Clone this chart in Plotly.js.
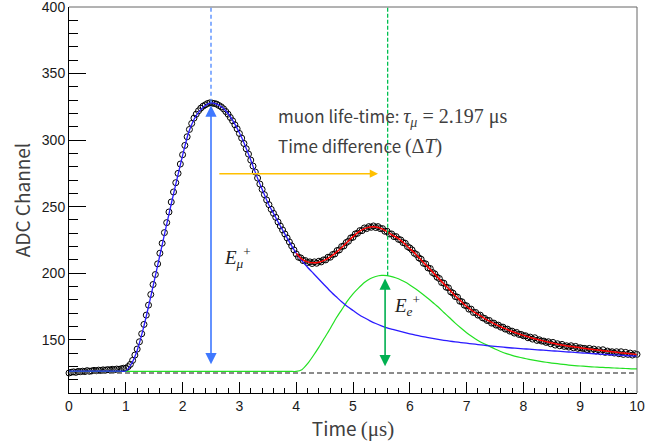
<!DOCTYPE html>
<html>
<head>
<meta charset="utf-8">
<script src="https://cdn.plot.ly/plotly-3.0.1.min.js"></script>
<style>html,body{margin:0;padding:0;background:#fff;}#chart{width:670px;height:443px;}</style>
</head>
<body>
<div id="chart"></div>
<script>
// ---- measured waveform (ADC samples every 0.04 us, starting at t = 0) ----
const sampleStart = 0;
const samplePeriod = 0.04;
const adcSamples = [
125.0,125.6,125.9,125.5,126.2,126.0,126.4,126.1,126.8,126.3,126.6,127.0,126.7,127.2,126.9,127.4,127.1,127.6,127.3,127.8,127.5,128.0,127.8,128.2,128.6,
128.5,129.8,131.5,134.5,138.5, 143,148.5,154.5,161.5,168.5, 176,184,191.5,199,207, 215,222.5,230.5,238,246,
253.5,261,268,275,282, 289,296,302.5,308,312.5, 316.5,319.5,322,324,325.5, 326.5,327.5,328,327.8,327.5,
327,326,325,323.5,321.5, 319.5,317,314.5,311.5,308.5, 305,301.5,297.5,293.5,289.5, 285,280.5,276,271.5,267,
263,259,255,251.5,248, 245,242,238.5,235.5,232.5, 229.5,226.5,223.5,220.5,217.5, 214.5,
212,211.5,209.5,209.5,208, 208.5,207.3,208.5,207.5,209, 208.5,210,210,212,212, 214,214.5,217,217.5,220,
220.5,223,224,226.5,227, 229.5,230,232,232,234, 233.5,235,234.5,235.5,234.3, 235,233.5,233.5,231.5,231.5,
229.5,229.5,227.5,227.5,225.5, 225,223,222.5,220,219,
217.5,215,214,211.5,210.5, 207.5,207,204,203.5,200.5, 199.5,197,196,193,192.5, 189.5,189,186,185,182.5,
182,179,178.5,176,175.5, 173,173,170.5,170.5,168.5, 168.5,166.5,166,164.5,164.5, 162.5,162.5,161,161,159.5,
159.5,158,158,156.5,156.5, 155,155.5,154,154,153, 153,151.5,152,150.5,151.5, 149.5,150,149,149,148,
148.5,147,148,146,147, 145.5,146.5,145,145.5,144.5, 145.5,144,145,143.5,144, 143.5,143.5,142.5,143.5,142,
143,141.5,142.5,141,142.5, 140.5,141.5,140.5,141,140, 141,139.5,141,139,140.5, 139,140,138.5,139.5,139
];

// ---- fitted curves, read every 0.1 us ----
const curveStart = 0;
const curveStep = 0.1;
const muonPulse = [
126.4,126.4,126.4,126.4,126.4,126.4,126.4,126.4,126.4,126.4,126.5,
132,142,157,175,194,213.5,233,252,270.5,288.5,
305,315.5,322,326,328,327,324.5,320,313.5,305.5,
296,285,273.5,263,253,245,237,229.5,222,215,
209.5,204.5,200,195.5,191,186.5,182.5,178.5,175,172,
169,166.5,164.2,162.2,160.5,159,157.8,156.6,155.5,154.5,
153.5,152.6,151.8,151,150.3,149.6,149,148.4,147.9,147.4,
146.9,146.4,145.9,145.4,145,144.6,144.2,143.8,143.5,143.2,
142.9,142.6,142.3,142,141.7,141.4,141.1,140.8,140.5,140.2,
139.9,139.6,139.4,139.1,138.9,138.6,138.4,138.1,137.9,137.7
];
const electronPulse = [
126.2,126.2,126.2,126.2,126.2,126.2,126.2,126.2,126.2,126.2,126.2,
126.2,126.2,126.2,126.2,126.2,126.2,126.2,126.2,126.2,126.2,
126.2,126.2,126.2,126.2,126.2,126.2,126.2,126.2,126.2,126.2,
126.2,126.2,126.2,126.2,126.2,126.2,126.2,126.2,126.2,126.2,
127.5,132,138,144.5,151.5,158.5,166,172.5,179,184.5,
189,193,195.8,197.5,198.3,198.2,197.3,195.8,193.7,191.2,
188.3,185.2,181.8,178.2,174.6,170.5,166.5,162.5,158.8,155.3,
152.2,149.5,147.2,145.2,143,141.2,139.6,138.3,137.2,136.2,
135.3,134.5,133.8,133.1,132.5,132,131.5,131,130.6,130.3,
130,129.7,129.4,129.2,129,128.8,128.6,128.4,128.2,128.1
];
// total fit (drawn from t = 4 us)
const totalStart = 4.0;
const totalFit = [
215,
210.5,208.5,207.8,208.3,209.8,212.3,215.5,219.3,223.5,227.5,
231,233.5,234.8,234.8,233.5,231.3,228.5,226,222.5,218.5,
214.5,210,205.5,201,196.5,192,187.5,183,179,175,
171.8,169,166.4,164,161.8,159.8,158,156.2,154.7,153.3,
152,150.8,149.7,148.6,147.6,146.7,145.9,145.2,144.6,144,
143.4,142.8,142.3,141.8,141.3,140.8,140.3,139.9,139.4,139
];

// ---- reference marks ----
const baseline = 125;
const muonPeakTime = 2.5;
const muonPeakADC = 328;
const muonArrowBottom = 130.5;
const muonArrowTop = 326;
const electronPeakTime = 5.61;
const electronArrowTime = 5.565;
const electronPeakADC = 198;
const electronArrowTop = 196;
const electronArrowBottom = 129;
const dtArrowFrom = 2.62, dtArrowTo = 5.44, dtArrowADC = 274.8;
const xTicks = [0,1,2,3,4,5,6,7,8,9,10];
const yTicks = [150,200,250,300,350,400];

const SANS = "'Noto Sans CJK JP', 'Noto Sans', sans-serif";
const SERIF = "Liberation Serif";

const traces = [
  {type:'scatter', mode:'markers', name:'data', x0:sampleStart, dx:samplePeriod, y:adcSamples,
   cliponaxis:false,
   marker:{symbol:'circle-open', size:6, color:'#000', line:{width:1, color:'#000'}}},
  {type:'scatter', mode:'lines', name:'e+', x0:curveStart, dx:curveStep, y:electronPulse,
   line:{color:'#22e022', width:1.2, shape:'spline', smoothing:0.6}},
  {type:'scatter', mode:'lines', name:'mu+', x0:curveStart, dx:curveStep, y:muonPulse,
   line:{color:'#2a1aff', width:1.3, shape:'spline', smoothing:0.6}},
  {type:'scatter', mode:'lines', name:'total', x0:totalStart, dx:curveStep, y:totalFit,
   line:{color:'#ff0000', width:1.5, shape:'spline', smoothing:0.6}}
];

const span = (t, s)=>'<span style="font-family:'+SERIF+';font-size:'+s+'px">'+t+'</span>';

const layout = {
  width:670, height:443,
  margin:{l:69, r:33, t:7, b:50},
  paper_bgcolor:'#fff', plot_bgcolor:'#fff',
  showlegend:false,
  xaxis:{range:[0,10], tickvals:xTicks, ticks:'inside', ticklen:11, tickwidth:1, tickcolor:'#000',
    showline:true, linecolor:'#000', linewidth:1, showgrid:false, zeroline:false,
    ticklabeloverflow:'allow',
    minor:{dtick:0.2, ticks:'inside', ticklen:5, tickwidth:1, tickcolor:'#000', showgrid:false},
    tickfont:{family:'Liberation Sans, Arial, sans-serif', size:14, color:'#1a1a1a'},
    title:{text:'Time '+span('(μs)',21), font:{family:SANS, size:19, color:'#404040'}, standoff:4}},
  yaxis:{range:[110,400], tickvals:yTicks, ticks:'inside', ticklen:17, tickwidth:1, tickcolor:'#000',
    showline:true, linecolor:'#000', linewidth:1, showgrid:false, zeroline:false,
    ticklabeloverflow:'allow',
    minor:{dtick:10, ticks:'inside', ticklen:9, tickwidth:1, tickcolor:'#000', showgrid:false},
    tickfont:{family:'Liberation Sans, Arial, sans-serif', size:14, color:'#1a1a1a'},
    title:{text:'ADC Channel', font:{family:SANS, size:19, color:'#404040'}, standoff:6}},
  shapes:[
    {type:'line', xref:'paper', yref:'paper', x0:0, x1:1, y0:1, y1:1, line:{color:'#666', width:1}},
    {type:'line', xref:'paper', yref:'paper', x0:1, x1:1, y0:0, y1:1, line:{color:'#666', width:1}},
    {type:'line', xref:'x', yref:'y', x0:0, x1:10, y0:baseline, y1:baseline, line:{color:'#666', width:1.5, dash:'5px,3px'}},
    {type:'line', xref:'x', yref:'y', x0:muonPeakTime, x1:muonPeakTime, y0:muonPeakADC, y1:400, line:{color:'#4a86ff', width:1.3, dash:'4px,3px'}},
    {type:'line', xref:'x', yref:'y', x0:electronPeakTime, x1:electronPeakTime, y0:electronPeakADC, y1:400, line:{color:'#00c050', width:1.3, dash:'4px,2px'}}
  ],
  annotations:[
    {x:muonPeakTime, y:muonArrowTop, ax:muonPeakTime, ay:muonArrowBottom, xref:'x', yref:'y', axref:'x', ayref:'y',
     text:'', showarrow:true, arrowside:'end+start', arrowhead:2, startarrowhead:2, arrowsize:1.4, startarrowsize:1.4,
     arrowwidth:1.6, arrowcolor:'#3f78ff', standoff:0, startstandoff:0},
    {x:electronArrowTime, y:electronArrowTop, ax:electronArrowTime, ay:electronArrowBottom, xref:'x', yref:'y', axref:'x', ayref:'y',
     text:'', showarrow:true, arrowside:'end+start', arrowhead:2, startarrowhead:2, arrowsize:1.4, startarrowsize:1.4,
     arrowwidth:1.6, arrowcolor:'#00b050', standoff:0, startstandoff:0},
    {x:dtArrowTo, y:dtArrowADC, ax:dtArrowFrom, ay:dtArrowADC, xref:'x', yref:'y', axref:'x', ayref:'y',
     text:'', showarrow:true, arrowhead:2, arrowsize:1.1, arrowwidth:1.5, arrowcolor:'#ffc000', standoff:0},
    {x:3.64, y:317.6, xref:'x', yref:'y', xanchor:'left', yanchor:'middle', showarrow:false,
     text:'muon life-time: '+span('<i>τ</i><sub><i>μ</i></sub> = 2.197 μs',20),
     font:{family:SANS, size:17, color:'#404040'}},
    {x:3.64, y:295.9, xref:'x', yref:'y', xanchor:'left', yanchor:'middle', showarrow:false,
     text:'Time difference '+span('(Δ<i>T</i>)',20),
     font:{family:SANS, size:17, color:'#404040'}},
    {x:2.70, y:212, xref:'x', yref:'y', xanchor:'left', yanchor:'middle', showarrow:false,
     text:'<i>E</i><sub><i>μ</i></sub><sup>+</sup>',
     font:{family:SERIF, size:19, color:'#222'}},
    {x:5.69, y:175.5, xref:'x', yref:'y', xanchor:'left', yanchor:'middle', showarrow:false,
     text:'<i>E</i><sub><i>e</i></sub><sup>+</sup>',
     font:{family:SERIF, size:19, color:'#222'}}
  ]
};

Plotly.newPlot('chart', traces, layout, {staticPlot:true, displayModeBar:false});
</script>
</body>
</html>
